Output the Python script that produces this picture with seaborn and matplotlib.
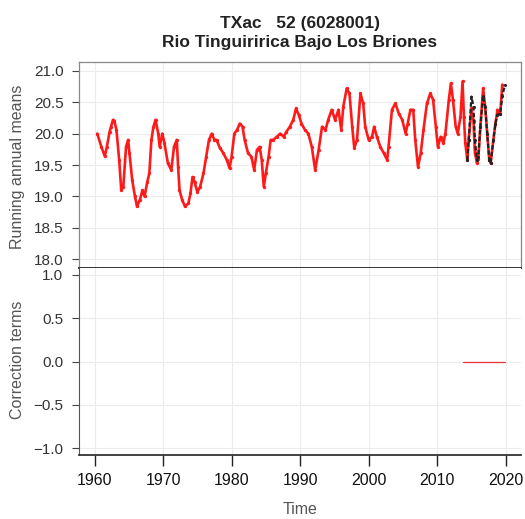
import matplotlib
matplotlib.use("Agg")
import matplotlib.pyplot as plt
import seaborn as sns
import pandas as pd

# ---- data ----
years_red = [1960.4, 1961.0, 1961.5, 1961.8, 1962.2, 1962.4, 1962.7, 1962.9, 1963.2, 1963.6,
             1963.9, 1964.2, 1964.6, 1964.9, 1965.1, 1965.5, 1965.9, 1966.2, 1966.6, 1967.0,
             1967.3, 1967.7, 1968.0, 1968.3, 1968.6, 1968.9, 1969.3, 1969.5, 1969.9, 1970.2,
             1970.7, 1971.2, 1971.6, 1972.0, 1972.2, 1972.4, 1972.8, 1973.2, 1973.7, 1974.0,
             1974.3, 1974.6, 1975.0, 1975.4, 1975.9, 1976.3, 1976.7, 1977.1, 1977.5, 1977.8,
             1978.3, 1978.8, 1979.3, 1979.7, 1980.0, 1980.4, 1980.8, 1981.2, 1981.6, 1981.9,
             1982.4, 1982.9, 1983.3, 1983.7, 1984.1, 1984.4, 1984.7, 1985.0, 1985.4, 1985.7,
             1986.1, 1986.6, 1987.1, 1987.6, 1988.0, 1988.5, 1989.0, 1989.4, 1989.8, 1990.2,
             1990.7, 1991.2, 1991.7, 1992.2, 1992.7, 1993.2, 1993.7, 1994.1, 1994.6, 1995.1,
             1995.6, 1996.0, 1996.3, 1996.8, 1997.2, 1997.6, 1997.9, 1998.3, 1998.8, 1999.2,
             1999.5, 2000.0, 2000.5, 2000.8, 2001.2, 2001.7, 2002.2, 2002.7, 2002.9, 2003.4,
             2003.9, 2004.4, 2004.9, 2005.4, 2005.7, 2006.1, 2006.5, 2006.8, 2007.2, 2007.6,
             2008.0, 2008.5, 2009.0, 2009.4, 2009.8, 2010.1, 2010.5, 2010.9, 2011.2, 2011.7,
             2012.0, 2012.3, 2012.7, 2013.0, 2013.4, 2013.7, 2013.9, 2014.1, 2014.4, 2014.6,
             2015.0, 2015.3, 2015.5, 2015.8, 2016.0, 2016.3, 2016.7, 2017.0, 2017.3, 2017.6,
             2017.8, 2018.2, 2018.5, 2018.8, 2019.2, 2019.5]
means_red = [20.00, 19.79, 19.64, 19.79, 20.03, 20.11, 20.22, 20.20, 20.06, 19.58,
             19.10, 19.15, 19.79, 19.90, 19.69, 19.26, 19.00, 18.84, 18.94, 19.10,
             19.00, 19.23, 19.37, 19.90, 20.11, 20.22, 20.00, 19.79, 20.00, 19.85,
             19.53, 19.42, 19.79, 19.90, 19.47, 19.10, 18.94, 18.84, 18.89, 19.05,
             19.31, 19.23, 19.07, 19.15, 19.37, 19.63, 19.90, 20.00, 19.90, 19.90,
             19.77, 19.69, 19.58, 19.45, 19.63, 20.00, 20.06, 20.16, 20.11, 19.90,
             19.69, 19.63, 19.42, 19.74, 19.79, 19.58, 19.15, 19.37, 19.63, 19.90,
             19.90, 19.95, 20.00, 19.95, 20.03, 20.11, 20.22, 20.40, 20.30, 20.16,
             20.06, 20.00, 19.79, 19.42, 19.74, 20.11, 20.06, 20.22, 20.38, 20.22,
             20.38, 20.06, 20.43, 20.72, 20.64, 20.11, 19.77, 19.90, 20.64, 20.48,
             20.11, 19.90, 19.95, 20.11, 19.95, 19.79, 19.69, 19.58, 19.79, 20.38,
             20.48, 20.32, 20.22, 20.00, 20.16, 20.38, 20.38, 19.90, 19.47, 19.69,
             20.06, 20.48, 20.64, 20.54, 20.11, 19.79, 19.95, 19.85, 20.00, 20.54,
             20.80, 20.54, 20.11, 20.00, 20.27, 20.83, 20.27, 19.85, 19.58, 19.90,
             20.40, 20.20, 19.70, 19.53, 19.60, 20.11, 20.72, 20.43, 20.00, 19.58,
             19.53, 19.90, 20.16, 20.38, 20.32, 20.78]

years_black = [2014.4, 2014.6, 2015.0, 2015.3, 2015.5, 2015.8, 2016.0, 2016.3, 2016.7, 2017.0,
               2017.3, 2017.6, 2017.8, 2018.2, 2018.5, 2018.8, 2019.2, 2019.5, 2019.9]
means_black = [19.58, 19.90, 20.59, 20.43, 19.90, 19.58, 19.63, 20.11, 20.60, 20.43,
               20.00, 19.58, 19.53, 19.90, 20.16, 20.30, 20.32, 20.60, 20.78]

years_corr = [2013.8, 2019.9]
corr_terms = [0.0, 0.0]

title_lines = ["TXac   52 (6028001)", "Rio Tinguiririca Bajo Los Briones"]
x_ticks = [1960, 1970, 1980, 1990, 2000, 2010, 2020]
top_yticks = [18.0, 18.5, 19.0, 19.5, 20.0, 20.5, 21.0]
bot_yticks = [-1.0, -0.5, 0.0, 0.5, 1.0]

# ---- figure ----
sns.set_style("white")
plt.rcParams["font.family"] = ["Liberation Sans", "DejaVu Sans"]

fig = plt.figure(figsize=(5.25, 5.19), dpi=100)
ax1 = fig.add_axes([0.150, 0.4836, 0.842, 0.3969])
ax2 = fig.add_axes([0.150, 0.1233, 0.842, 0.3603])

df_red = pd.DataFrame({"Time": years_red, "val": means_red})
df_black = pd.DataFrame({"Time": years_black, "val": means_black})
df_corr = pd.DataFrame({"Time": years_corr, "val": corr_terms})

grid_kw = dict(color="#ececec", linewidth=0.8, linestyle="-")
xlim = (1957.7, 2022.2)
tick_fs = 11
label_fs = 11.5

# top panel
for x in x_ticks:
    ax1.axvline(x, zorder=0, **grid_kw)
for y in top_yticks:
    ax1.axhline(y, zorder=0, **grid_kw)
sns.lineplot(data=df_red, x="Time", y="val", ax=ax1, color="#ff1a1a", linewidth=1.9,
             marker="o", markersize=2.4, markeredgewidth=0, estimator=None, sort=False)
sns.lineplot(data=df_black, x="Time", y="val", ax=ax1, color="#222222", linewidth=1.6,
             marker="o", markersize=2.2, markeredgewidth=0, estimator=None, sort=False,
             linestyle=(0, (2, 1)))
ax1.set_xlim(*xlim)
ax1.set_ylim(17.86, 21.14)
ax1.set_yticks(top_yticks)
ax1.set_yticklabels([f"{v:.1f}" for v in top_yticks], fontsize=tick_fs, color="#333333")
ax1.set_xticks(x_ticks)
ax1.tick_params(axis="x", length=0, labelbottom=False)
ax1.tick_params(axis="y", direction="out", length=5, width=0.8, color="#444444", left=True, pad=6)
ax1.set_xlabel("")
ax1.set_ylabel("Running annual means", fontsize=label_fs, color="#555555")
ax1.yaxis.set_label_coords(-0.122, 0.49)
for s in ["top", "right", "left"]:
    ax1.spines[s].set_color("#888888")
    ax1.spines[s].set_linewidth(0.9)
ax1.spines["bottom"].set_color("#333333")
ax1.spines["bottom"].set_linewidth(1.4)
ax1.set_title("\n".join(title_lines), fontsize=12.5, fontweight="bold", color="#222222",
              pad=11, linespacing=1.3)

# bottom panel
for x in x_ticks:
    ax2.axvline(x, zorder=0, **grid_kw)
for y in bot_yticks:
    ax2.axhline(y, zorder=0, **grid_kw)
sns.lineplot(data=df_corr, x="Time", y="val", ax=ax2, color="#e8333a", linewidth=0.9,
             estimator=None, sort=False)
ax2.set_xlim(*xlim)
ax2.set_ylim(-1.08, 1.08)
ax2.set_yticks(bot_yticks)
ax2.set_yticklabels([f"{v:.1f}".replace("-", "\u2212") for v in bot_yticks], fontsize=tick_fs,
                    color="#333333")
ax2.set_xticks(x_ticks)
ax2.set_xticklabels([str(x) for x in x_ticks], fontsize=tick_fs + 0.5, color="#111111")
ax2.tick_params(axis="y", direction="out", length=5, width=0.8, color="#444444", left=True, pad=6)
ax2.tick_params(axis="x", direction="out", length=8, width=1.0, color="#222222", bottom=True, pad=5)
ax2.set_xlabel("Time", fontsize=label_fs, color="#555555")
ax2.xaxis.set_label_coords(0.5, -0.25)
ax2.set_ylabel("Correction terms", fontsize=label_fs, color="#555555")
ax2.yaxis.set_label_coords(-0.122, 0.508)
ax2.spines["top"].set_visible(False)
ax2.spines["right"].set_visible(False)
ax2.spines["left"].set_color("#555555")
ax2.spines["bottom"].set_color("#333333")
ax2.spines["bottom"].set_linewidth(1.3)

fig.savefig("out.png", dpi=100)
